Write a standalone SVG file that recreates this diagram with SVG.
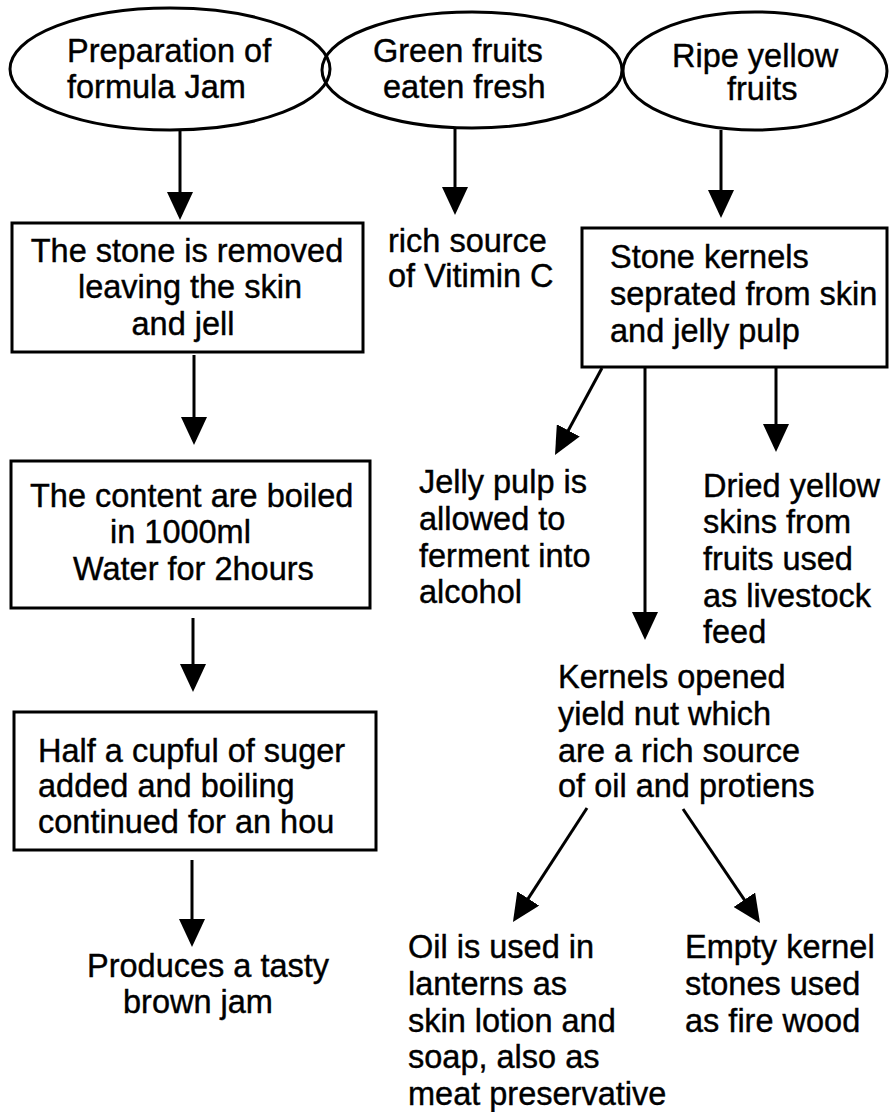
<svg xmlns="http://www.w3.org/2000/svg" width="889" height="1112" viewBox="0 0 889 1112">
<style>
.shape{fill:#fff;stroke:#000;stroke-width:3}
.conn{stroke:#000;stroke-width:3;fill:none}
text{font-family:"Liberation Sans",Arial,Helvetica,sans-serif;font-size:32.5px;fill:#000;stroke:#000;stroke-width:0.4}
.c{text-anchor:middle}
</style>
<defs>
<marker id="ah" viewBox="0 0 28 26" markerWidth="28" markerHeight="26" refX="18" refY="13" orient="auto" markerUnits="userSpaceOnUse">
<path d="M0,0 L28,13 L0,26 z" fill="#000"/>
</marker>
</defs>
<rect width="889" height="1112" fill="#fff"/>

<g id="connectors">
<line class="conn" x1="180" y1="130" x2="180" y2="210" marker-end="url(#ah)"/>
<line class="conn" x1="455" y1="128" x2="455" y2="205" marker-end="url(#ah)"/>
<line class="conn" x1="721" y1="130" x2="721" y2="208" marker-end="url(#ah)"/>
<line class="conn" x1="194" y1="355" x2="194" y2="435" marker-end="url(#ah)"/>
<line class="conn" x1="193" y1="618" x2="193" y2="682" marker-end="url(#ah)"/>
<line class="conn" x1="192" y1="860" x2="192" y2="937" marker-end="url(#ah)"/>
<line class="conn" x1="602" y1="368" x2="559.75" y2="446.2" marker-end="url(#ah)"/>
<line class="conn" x1="645" y1="367" x2="645" y2="630" marker-end="url(#ah)"/>
<line class="conn" x1="776" y1="367" x2="776" y2="442" marker-end="url(#ah)"/>
<line class="conn" x1="587" y1="808" x2="518.4" y2="913.6" marker-end="url(#ah)"/>
<line class="conn" x1="683" y1="809" x2="754.4" y2="914.7" marker-end="url(#ah)"/>
</g>

<g id="prep-jam">
<ellipse class="shape" cx="170" cy="69" rx="160" ry="61"/>
<text x="67" y="62">Preparation of</text>
<text x="67" y="98">formula Jam</text>
</g>
<g id="green-fruits">
<ellipse class="shape" cx="472" cy="70" rx="150" ry="58" style="fill:none"/>
<text x="373" y="62">Green fruits</text>
<text x="383" y="98">eaten fresh</text>
</g>
<g id="ripe-fruits">
<ellipse class="shape" cx="755" cy="71" rx="132" ry="59" style="fill:none"/>
<text x="672" y="67">Ripe yellow</text>
<text x="727" y="100">fruits</text>
</g>

<g id="stone-removed">
<rect class="shape" x="12" y="223" width="351" height="129"/>
<text class="c" x="187" y="262">The stone is removed</text>
<text class="c" x="190" y="298">leaving the skin</text>
<text class="c" x="183" y="335">and jell</text>
</g>
<g id="vitamin-c">
<text x="388" y="252">rich source</text>
<text x="388" y="287">of Vitimin C</text>
</g>
<g id="stone-kernels">
<rect class="shape" x="582" y="228" width="305" height="139"/>
<text x="610" y="268">Stone kernels</text>
<text x="610" y="305">seprated from skin</text>
<text x="610" y="342">and jelly pulp</text>
</g>

<g id="boiled">
<rect class="shape" x="11" y="461" width="359" height="147"/>
<text x="30" y="507">The content are boiled</text>
<text x="110" y="543">in 1000ml</text>
<text x="73" y="580">Water for 2hours</text>
</g>
<g id="sugar">
<rect class="shape" x="14" y="712" width="362" height="138"/>
<text x="38" y="762">Half a cupful of suger</text>
<text x="38" y="797">added and boiling</text>
<text x="38" y="833">continued for an hou</text>
</g>
<g id="brown-jam">
<text x="87" y="977">Produces a tasty</text>
<text x="123" y="1013">brown jam</text>
</g>

<g id="jelly-pulp">
<text x="419" y="493">Jelly pulp is</text>
<text x="419" y="530">allowed to</text>
<text x="419" y="567">ferment into</text>
<text x="419" y="603">alcohol</text>
</g>
<g id="dried-skins">
<text x="703" y="497">Dried yellow</text>
<text x="703" y="533">skins from</text>
<text x="703" y="570">fruits used</text>
<text x="703" y="607">as livestock</text>
<text x="703" y="643">feed</text>
</g>
<g id="kernels-opened">
<text x="558" y="688">Kernels opened</text>
<text x="558" y="725">yield nut which</text>
<text x="558" y="762">are a rich source</text>
<text x="558" y="797">of oil and protiens</text>
</g>
<g id="oil-uses">
<text x="408" y="958">Oil is used in</text>
<text x="408" y="995">lanterns as</text>
<text x="408" y="1032">skin lotion and</text>
<text x="408" y="1068">soap, also as</text>
<text x="408" y="1105">meat preservative</text>
</g>
<g id="empty-kernel">
<text x="685" y="958">Empty kernel</text>
<text x="685" y="995">stones used</text>
<text x="685" y="1032">as fire wood</text>
</g>
</svg>
